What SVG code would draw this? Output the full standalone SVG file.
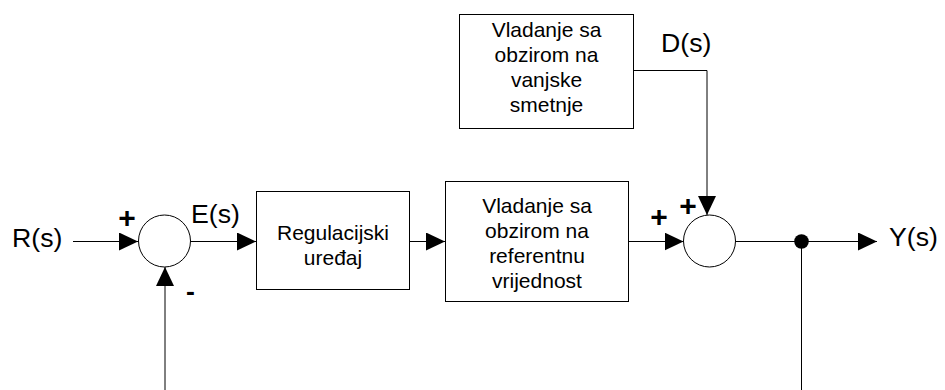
<svg xmlns="http://www.w3.org/2000/svg" width="945" height="390" viewBox="0 0 945 390">
<style>
.box{fill:#fff;stroke:#000;stroke-width:1}
.sum{fill:#fff;stroke:#000;stroke-width:1}
.ln{fill:none;stroke:#000;stroke-width:1}
.t{font-family:"Liberation Sans",Arial,sans-serif;font-size:21px;fill:#000;text-anchor:middle}
.lbl{font-family:"Liberation Sans",Arial,sans-serif;font-size:26.7px;fill:#000}
.sg{font-family:"Liberation Sans",Arial,sans-serif;font-weight:bold;fill:#000;text-anchor:middle}
</style>
<defs>
<marker id="ah" markerUnits="userSpaceOnUse" markerWidth="19" markerHeight="18" refX="19" refY="9" orient="auto">
<path d="M0,0 L19,9 L0,18 z" fill="#000"/>
</marker>
</defs>
<g id="connectors">
<path class="ln" d="M73,241.5 H138" marker-end="url(#ah)"/>
<path class="ln" d="M165,390 V267" marker-end="url(#ah)"/>
<path class="ln" d="M190.5,241.5 H256" marker-end="url(#ah)"/>
<path class="ln" d="M410,241.5 H445" marker-end="url(#ah)"/>
<path class="ln" d="M629,241.5 H683.5" marker-end="url(#ah)"/>
<path class="ln" d="M634,70.5 H707 V215" marker-end="url(#ah)"/>
<path class="ln" d="M735.5,241.5 H877" marker-end="url(#ah)"/>
<path class="ln" d="M801.5,241.5 V390"/>
<circle cx="801.5" cy="241.5" r="7.3" fill="#000"/>
</g>
<g id="sum1">
<circle class="sum" cx="164.5" cy="241" r="26"/>
<text class="sg" x="127" y="228" font-size="30">+</text>
<text class="sg" x="190.5" y="299.5" font-size="26.7">-</text>
</g>
<g id="sum2">
<circle class="sum" cx="709.5" cy="241" r="26"/>
<text class="sg" x="659" y="226.5" font-size="30">+</text>
<text class="sg" x="688" y="215.5" font-size="30">+</text>
</g>
<g id="regulator">
<rect class="box" x="256.5" y="191.5" width="153" height="98"/>
<text class="t" x="333" y="240">Regulacijski</text>
<text class="t" x="333" y="265">uređaj</text>
</g>
<g id="reference">
<rect class="box" x="445.5" y="181.5" width="183" height="120"/>
<text class="t" x="537" y="213">Vladanje sa</text>
<text class="t" x="537" y="238">obzirom na</text>
<text class="t" x="537" y="263">referentnu</text>
<text class="t" x="537" y="288">vrijednost</text>
</g>
<g id="disturbance">
<rect class="box" x="459.5" y="14.5" width="174" height="114"/>
<text class="t" x="546.5" y="37">Vladanje sa</text>
<text class="t" x="546.5" y="62">obzirom na</text>
<text class="t" x="546.5" y="87">vanjske</text>
<text class="t" x="546.5" y="112">smetnje</text>
</g>
<g id="labels">
<text class="lbl" x="12" y="246.5">R(s)</text>
<text class="lbl" x="191" y="223">E(s)</text>
<text class="lbl" x="661" y="52">D(s)</text>
<text class="lbl" x="889" y="246">Y(s)</text>
</g>
</svg>
